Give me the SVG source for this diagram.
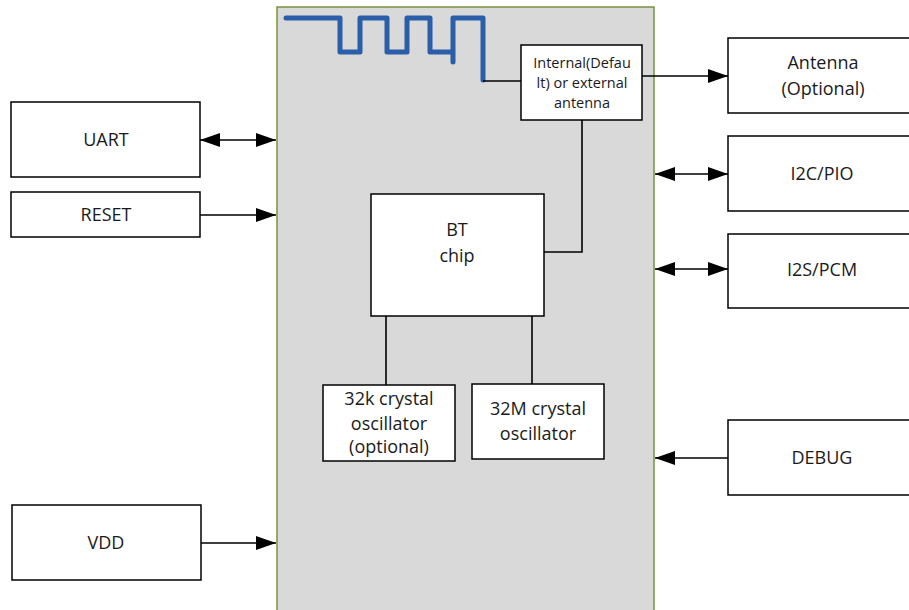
<svg xmlns="http://www.w3.org/2000/svg" width="909" height="610" viewBox="0 0 909 610">
<style>
.box{fill:#fff;stroke:#000;stroke-width:1.5}
.t{font-family:"Open Sans","Noto Sans",sans-serif;font-size:18px;fill:#1a1a1a;text-anchor:middle}
.s{font-size:14.5px}
.c{stroke:#000;stroke-width:1.6;fill:none}
</style>
<defs>
<marker id="ah" viewBox="0 0 20 14" refX="20" refY="7" markerWidth="20" markerHeight="14" markerUnits="userSpaceOnUse" orient="auto-start-reverse">
<path d="M0,0 L20,7 L0,14 z" fill="#000"/>
</marker>
</defs>
<rect width="909" height="610" fill="#fff"/>
<g id="module">
<rect x="277" y="7" width="377" height="612" fill="#d9d9d9" stroke="#77933c" stroke-width="1.5"/>
<path d="M286,18 H340 V52 H360 V18 H387 V52 H407 V18 H430 V52 H453 V62 M453,62 V18 H483 V80" fill="none" stroke="#2a5ea8" stroke-width="5" stroke-linecap="round" stroke-linejoin="round"/>
</g>
<g id="connectors">
<path class="c" d="M483,81 H521"/>
<path class="c" d="M582,120 V252 H544"/>
<path class="c" d="M386,316 V385"/>
<path class="c" d="M532,316 V384"/>
<path class="c" d="M642,76 H728" marker-end="url(#ah)"/>
<path class="c" d="M200,140 H276" marker-start="url(#ah)" marker-end="url(#ah)"/>
<path class="c" d="M200,215 H276" marker-end="url(#ah)"/>
<path class="c" d="M201,543 H276" marker-end="url(#ah)"/>
<path class="c" d="M655,174 H728" marker-start="url(#ah)" marker-end="url(#ah)"/>
<path class="c" d="M655,269 H728" marker-start="url(#ah)" marker-end="url(#ah)"/>
<path class="c" d="M728,458 H655" marker-end="url(#ah)"/>
</g>
<g id="antenna-int">
<rect class="box" x="521" y="45" width="121" height="75"/>
<text class="t s" x="582" y="68">Internal(Defau</text>
<text class="t s" x="582" y="88">lt) or external</text>
<text class="t s" x="582" y="108">antenna</text>
</g>
<g id="bt-chip">
<rect class="box" x="371" y="194" width="173" height="122"/>
<text class="t" x="457" y="236">BT</text>
<text class="t" x="457" y="262">chip</text>
</g>
<g id="osc32k">
<rect class="box" x="323" y="385" width="132" height="76"/>
<text class="t" x="389" y="405">32k crystal</text>
<text class="t" x="389" y="430">oscillator</text>
<text class="t" x="389" y="453">(optional)</text>
</g>
<g id="osc32m">
<rect class="box" x="472" y="384" width="132" height="75"/>
<text class="t" x="538" y="415">32M crystal</text>
<text class="t" x="538" y="440">oscillator</text>
</g>
<g id="uart">
<rect class="box" x="11" y="102" width="189" height="75"/>
<text class="t" x="106" y="146">UART</text>
</g>
<g id="reset">
<rect class="box" x="11" y="192" width="189" height="45"/>
<text class="t" x="106" y="221">RESET</text>
</g>
<g id="vdd">
<rect class="box" x="12" y="505" width="189" height="75"/>
<text class="t" x="106" y="549">VDD</text>
</g>
<g id="antenna">
<rect class="box" x="728" y="38" width="190" height="75"/>
<text class="t" x="823" y="69">Antenna</text>
<text class="t" x="823" y="95">(Optional)</text>
</g>
<g id="i2c">
<rect class="box" x="728" y="136" width="190" height="75"/>
<text class="t" x="822" y="180">I2C/PIO</text>
</g>
<g id="i2s">
<rect class="box" x="728" y="234" width="190" height="74"/>
<text class="t" x="822" y="276">I2S/PCM</text>
</g>
<g id="debug">
<rect class="box" x="728" y="420" width="190" height="75"/>
<text class="t" x="822" y="464">DEBUG</text>
</g>
</svg>
